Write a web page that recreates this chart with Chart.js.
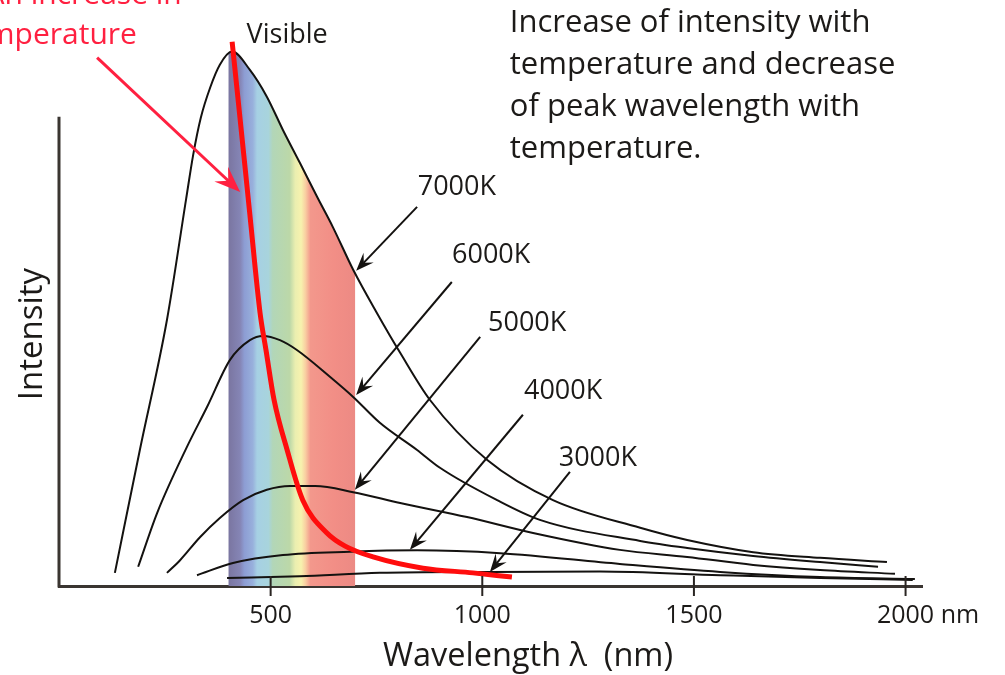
<!DOCTYPE html>
<html>
<head>
<meta charset="utf-8">
<title>Blackbody radiation curves</title>
<script src="https://cdn.jsdelivr.net/npm/chart.js@4/dist/chart.umd.min.js"></script>
<style>
  html, body { margin: 0; padding: 0; background: #fff; }
</style>
</head>
<body>
<canvas id="chart" width="1005" height="675"></canvas>
<script>
// wavelength (nm) / relative intensity
const wl7000  = [132, 191, 255, 300, 317, 335, 357, 380, 409, 451, 491, 529, 569, 610, 647, 695, 751, 806, 876, 1011, 1167, 1373, 1484, 1640, 1798, 1956];
const int7000 = [2.8, 29.0, 56.7, 82.3, 91.9, 99.8, 106.2, 111.1, 113.9, 110.0, 104.3, 97.2, 90.2, 82.9, 76.5, 67.4, 58.2, 49.7, 39.7, 26.9, 18.3, 12.4, 9.8, 7.2, 6.0, 5.1];

const wl6000  = [187, 232, 302, 350, 404, 451, 482, 522, 562, 640, 695, 758, 846, 900, 1035, 1136, 1373, 1484, 1640, 1798, 1935];
const int6000 = [4.1, 15.6, 29.6, 38.2, 48.2, 52.4, 53.3, 52.4, 50.3, 44.6, 40.3, 34.8, 29.0, 25.2, 18.3, 14.1, 9.6, 8.1, 6.4, 5.1, 4.1];

const wl5000  = [255, 286, 333, 380, 435, 491, 546, 605, 695, 806, 964, 1120, 1325, 1484, 1640, 1798, 1975];
const int5000 = [2.8, 5.5, 10.4, 14.5, 18.3, 20.5, 21.3, 21.3, 20.0, 17.7, 14.7, 11.3, 7.7, 6.2, 4.5, 3.4, 2.6];

const wl4000  = [326, 411, 529, 687, 846, 1042, 1325, 1562, 1798, 2022];
const int4000 = [2.3, 4.9, 6.6, 7.3, 7.6, 7.0, 4.7, 3.0, 1.9, 1.5];

const wl3000  = [397, 569, 758, 1018, 1278, 1562, 1798, 2017];
const int3000 = [1.7, 2.1, 2.8, 3.0, 3.1, 2.3, 1.7, 1.3];

// red line through the peaks
const wlPeak  = [409, 428, 451, 475, 489, 508, 539, 576, 633, 676, 742, 860, 978, 1070];
const intPeak = [116.0, 99.4, 79.1, 58.2, 50.3, 39.7, 29.0, 18.3, 11.3, 8.5, 6.2, 3.8, 2.8, 1.9];

// visible band, top follows the 7000K curve
const bandWl  = [400, 409, 451, 491, 529, 569, 610, 647, 695, 700];
const bandInt = [113.5, 113.9, 110.0, 104.3, 97.2, 90.2, 82.9, 76.5, 67.4, 66.6];

const tempLabels = ['7000K', '6000K', '5000K', '4000K', '3000K'];
const xTicks = [500, 1000, 1500, 2000];

const FONT = "'Open Sans', sans-serif";
const INK = '#1c1a18';
const RED = '#ff2040';

const SPECTRUM = [
  [400, '#7a75a0'], [428, '#8585b5'], [438, '#8d9dd3'], [458, '#98b0dc'],
  [468, '#a6d0e4'], [495, '#a8d4dc'], [505, '#b2d6b8'], [545, '#bcd8a8'],
  [558, '#eaeeb0'], [572, '#f7f2ae'], [582, '#f9d0a2'], [594, '#f3988c'],
  [650, '#f28e86'], [700, '#ec8a84']
];

// annotation anchors in data units (nm, intensity)
const labelAt = { x: [940, 1021, 1106, 1191, 1273], y: [83.4, 68.9, 54.4, 39.9, 25.6] };
const arrowFrom = [[846, 80.8], [928, 64.8], [995, 53.1], [1096, 36.5], [1207, 24.3]];
const arrowTo   = [[702, 67.2], [702, 40.7], [699, 20.5], [829, 7.7], [1018, 3.0]];
const notes = [
  { text: 'Visible', x: 539, y: 115.8, size: 27, align: 'center' },
  { text: 'Increase of intensity with', x: 1065, y: 118.1, size: 31, align: 'left' },
  { text: 'temperature and decrease', x: 1065, y: 109.2, size: 31, align: 'left' },
  { text: 'of peak wavelength with', x: 1065, y: 100.2, size: 31, align: 'left' },
  { text: 'temperature.', x: 1065, y: 91.2, size: 31, align: 'left' },
  { text: 'Wavelength \u03bb  (nm)', x: 1108, y: -17.1, size: 32.5, align: 'center' },
  { text: 'Intensity', x: -40.2, y: 53.7, size: 33, align: 'center', rotate: true },
  { text: 'An increase in', x: 290, y: 124.1, size: 30, align: 'right', color: RED },
  { text: 'temperature', x: 184, y: 115.6, size: 30, align: 'right', color: RED }
];

const pts = (xs, ys) => xs.map((v, i) => ({ x: v, y: ys[i] }));

function curve(label, xs, ys) {
  return {
    label: label,
    data: pts(xs, ys),
    borderColor: '#141210',
    borderWidth: 2,
    pointRadius: 0,
    fill: false,
    cubicInterpolationMode: 'monotone',
    order: 1
  };
}

function spectrum(context) {
  const chart = context.chart;
  if (!chart.chartArea) return 'transparent';
  const sx = chart.scales.x;
  const lo = bandWl[0], hi = bandWl[bandWl.length - 1];
  const g = chart.ctx.createLinearGradient(sx.getPixelForValue(lo), 0, sx.getPixelForValue(hi), 0);
  SPECTRUM.forEach(function (s) { g.addColorStop((s[0] - lo) / (hi - lo), s[1]); });
  return g;
}

function arrow(ctx, x0, y0, x1, y1, color, width, len, half) {
  const a = Math.atan2(y1 - y0, x1 - x0);
  const c = Math.cos(a), s = Math.sin(a);
  ctx.strokeStyle = color;
  ctx.fillStyle = color;
  ctx.lineWidth = width;
  ctx.beginPath();
  ctx.moveTo(x0, y0);
  ctx.lineTo(x1 - c * len * 0.6, y1 - s * len * 0.6);
  ctx.stroke();
  ctx.beginPath();
  ctx.moveTo(x1, y1);
  ctx.lineTo(x1 - c * len - s * half, y1 - s * len + c * half);
  ctx.lineTo(x1 - c * len * 0.62, y1 - s * len * 0.62);
  ctx.lineTo(x1 - c * len + s * half, y1 - s * len - c * half);
  ctx.closePath();
  ctx.fill();
}

const overlay = {
  id: 'overlay',
  afterDraw(chart) {
    const ctx = chart.ctx;
    const sx = chart.scales.x, sy = chart.scales.y;
    const px = v => sx.getPixelForValue(v);
    const py = v => sy.getPixelForValue(v);
    ctx.save();

    // vertical axis line (shorter than the plot area)
    ctx.strokeStyle = '#3a3531';
    ctx.lineWidth = 3;
    ctx.beginPath();
    ctx.moveTo(px(0), py(0) + 1.5);
    ctx.lineTo(px(0), py(100));
    ctx.stroke();

    // tick marks crossing the axis
    ctx.lineWidth = 2;
    ctx.strokeStyle = '#2a2522';
    xTicks.forEach(function (v) {
      ctx.beginPath();
      ctx.moveTo(px(v), py(0) - 10);
      ctx.lineTo(px(v), py(0) + 10);
      ctx.stroke();
    });

    // unit after the last tick label
    const items = sx.getLabelItems();
    const last = items[items.length - 1];
    ctx.font = '25px ' + FONT;
    ctx.fillStyle = INK;
    ctx.textAlign = 'left';
    ctx.textBaseline = 'middle';
    const w = ctx.measureText(String(last.label)).width;
    ctx.fillText(' nm', last.options.translation[0] + w / 2, last.options.translation[1] + last.textOffset);

    // temperature labels and arrows
    tempLabels.forEach(function (t, i) {
      arrow(ctx, px(arrowFrom[i][0]), py(arrowFrom[i][1]), px(arrowTo[i][0]), py(arrowTo[i][1]), '#141210', 2, 18, 7);
      ctx.font = '27px ' + FONT;
      ctx.fillStyle = INK;
      ctx.textAlign = 'center';
      ctx.textBaseline = 'alphabetic';
      ctx.fillText(t, px(labelAt.x[i]), py(labelAt.y[i]));
    });

    // red arrow pointing at the peak line
    arrow(ctx, px(90), py(112.6), px(428), py(84.0), RED, 3, 26, 10);

    notes.forEach(function (n) {
      ctx.font = n.size + 'px ' + FONT;
      ctx.fillStyle = n.color || INK;
      ctx.textAlign = n.align;
      ctx.textBaseline = 'alphabetic';
      if (n.rotate) {
        ctx.save();
        ctx.translate(px(n.x), py(n.y));
        ctx.rotate(-Math.PI / 2);
        ctx.fillText(n.text, 0, 0);
        ctx.restore();
      } else {
        ctx.fillText(n.text, px(n.x), py(n.y));
      }
    });

    ctx.restore();
  }
};

new Chart(document.getElementById('chart'), {
  type: 'line',
  data: {
    datasets: [
      {
        label: 'peak',
        data: pts(wlPeak, intPeak),
        borderColor: '#ff0d0d',
        borderWidth: 5,
        pointRadius: 0,
        fill: false,
        cubicInterpolationMode: 'monotone',
        order: 0
      },
      curve('7000K', wl7000, int7000),
      curve('6000K', wl6000, int6000),
      curve('5000K', wl5000, int5000),
      curve('4000K', wl4000, int4000),
      curve('3000K', wl3000, int3000),
      {
        label: 'visible',
        data: pts(bandWl, bandInt),
        borderWidth: 0,
        borderColor: 'rgba(0,0,0,0)',
        pointRadius: 0,
        fill: 'origin',
        backgroundColor: spectrum,
        cubicInterpolationMode: 'monotone',
        order: 2
      }
    ]
  },
  options: {
    responsive: false,
    animation: false,
    devicePixelRatio: 1,
    layout: { padding: { left: 59, right: 82.5, top: 23, bottom: 0 } },
    plugins: { legend: { display: false }, tooltip: { enabled: false } },
    scales: {
      x: {
        type: 'linear',
        min: 0,
        max: 2040,
        afterBuildTicks: function (s) { s.ticks = xTicks.map(v => ({ value: v })); },
        afterFit: function (s) { s.height = 89; },
        grid: { display: false, drawTicks: false },
        border: { display: true, color: '#3a3531', width: 3 },
        ticks: {
          padding: 15,
          autoSkip: false,
          maxRotation: 0,
          color: INK,
          font: { family: FONT, size: 25 },
          callback: function (v) { return String(v); }
        }
      },
      y: { type: 'linear', min: 0, max: 120, display: false }
    }
  },
  plugins: [overlay]
});
</script>
</body>
</html>
